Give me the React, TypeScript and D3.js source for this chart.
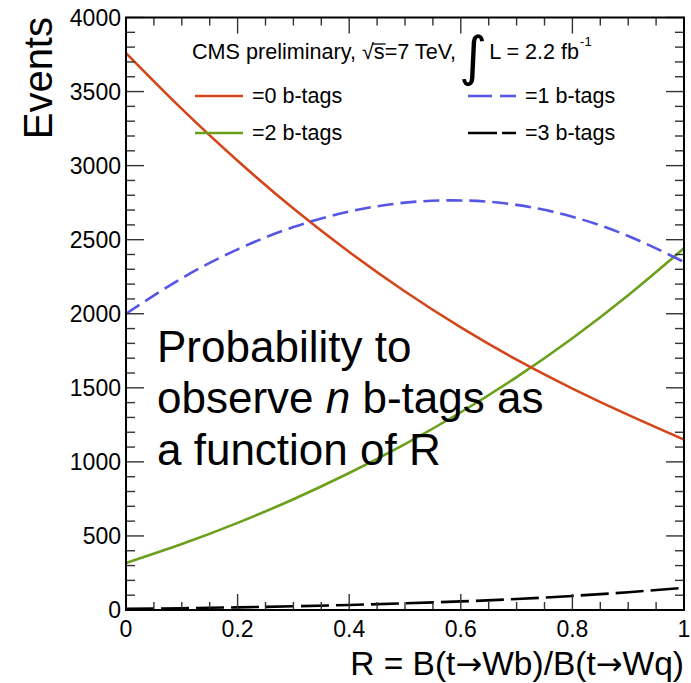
import React, { useEffect, useRef } from 'react';
import * as d3 from 'd3';

// ---- data ----
const R_VALUES = [0, 0.1, 0.2, 0.3, 0.4, 0.5, 0.6, 0.7, 0.8, 0.9, 1.0];
const EVENTS_0B = [3760, 3383, 3033, 2710, 2417, 2150, 1908, 1690, 1495, 1317, 1150];
const EVENTS_1B = [2000, 2240, 2435, 2585, 2690, 2750, 2765, 2735, 2655, 2525, 2350];
const EVENTS_2B = [317, 445, 588, 748, 925, 1120, 1335, 1572, 1835, 2125, 2442];
const EVENTS_3B = [8, 12, 18, 25, 34, 45, 58, 74, 95, 120, 150];

const SERIES_LABELS = ['=0 b-tags', '=1 b-tags', '=2 b-tags', '=3 b-tags'];
const SERIES_COLORS = ['#d4461a', '#5656e6', '#6aa01a', '#000000'];
const SERIES_DASH = ['none', '16,7', 'none', '28,7'];

const X_TICKS = [0, 0.2, 0.4, 0.6, 0.8, 1];
const X_TICK_LABELS = ['0', '0.2', '0.4', '0.6', '0.8', '1'];
const Y_TICKS = [0, 500, 1000, 1500, 2000, 2500, 3000, 3500, 4000];
const Y_TICK_LABELS = ['0', '500', '1000', '1500', '2000', '2500', '3000', '3500', '4000'];

const X_TITLE_PARTS = ['R = B(t', '\u2192', 'Wb)/B(t', '\u2192', 'Wq)'];
const Y_TITLE = 'Events';
const ANNOTATION = ['Probability to', 'observe |n| b-tags as', 'a function of R'];

const FONT = "'Liberation Sans', Arial, Helvetica, sans-serif";

export default function App() {
  const ref = useRef<SVGSVGElement>(null);

  useEffect(() => {
    const svg = d3.select(ref.current);
    svg.selectAll('*').remove();

    const W = 691, H = 683;
    const left = 126, right = 684, top = 17.5, bottom = 610;
    const x = d3.scaleLinear().domain([0, 1]).range([left, right]);
    const y = d3.scaleLinear().domain([0, 4000]).range([bottom, top]);

    svg.append('rect').attr('width', W).attr('height', H).attr('fill', '#fff');

    // curves
    const series = [EVENTS_0B, EVENTS_1B, EVENTS_2B, EVENTS_3B];
    const line = d3.line<number>()
      .x((_, i) => x(R_VALUES[i]))
      .y((d) => y(d))
      .curve(d3.curveNatural);
    const g = svg.append('g');
    [3, 2, 0, 1].forEach((k) => {
      g.append('path')
        .attr('d', line(series[k]) as string)
        .attr('fill', 'none')
        .attr('stroke', SERIES_COLORS[k])
        .attr('stroke-width', 2.6)
        .attr('stroke-dasharray', SERIES_DASH[k]);
    });

    // ticks on all four sides
    const tk = svg.append('g').attr('stroke', '#333').attr('stroke-width', 1.4);
    const xMinor = d3.range(0, 1.0001, 0.05);
    xMinor.forEach((v) => {
      const isMajor = Math.abs(v * 5 - Math.round(v * 5)) < 1e-6;
      const len = isMajor ? 16 : 8;
      tk.append('line').attr('x1', x(v)).attr('x2', x(v)).attr('y1', bottom).attr('y2', bottom - len);
      tk.append('line').attr('x1', x(v)).attr('x2', x(v)).attr('y1', top).attr('y2', top + len);
    });
    const yMinor = d3.range(0, 4001, 100);
    yMinor.forEach((v) => {
      const isMajor = v % 500 === 0;
      const len = isMajor ? 18 : 9;
      tk.append('line').attr('y1', y(v)).attr('y2', y(v)).attr('x1', left).attr('x2', left + len);
      tk.append('line').attr('y1', y(v)).attr('y2', y(v)).attr('x1', right).attr('x2', right - len);
    });

    // frame
    svg.append('rect')
      .attr('x', left).attr('y', top)
      .attr('width', right - left).attr('height', bottom - top)
      .attr('fill', 'none').attr('stroke', '#000').attr('stroke-width', 2);

    // tick labels
    const yl = svg.append('g').attr('font-family', FONT).attr('font-size', 23).attr('fill', '#000');
    Y_TICKS.forEach((v, i) => {
      yl.append('text').attr('x', 121).attr('y', y(v) + 8).attr('text-anchor', 'end').text(Y_TICK_LABELS[i]);
    });
    X_TICKS.forEach((v, i) => {
      yl.append('text').attr('x', x(v)).attr('y', 637).attr('text-anchor', 'middle').text(X_TICK_LABELS[i]);
    });

    // axis titles
    const xt = svg.append('text')
      .attr('font-family', FONT).attr('font-size', 33.5)
      .attr('x', right).attr('y', 675).attr('text-anchor', 'end');
    X_TITLE_PARTS.forEach((p) => {
      const ts = xt.append('tspan').text(p);
      if (p === '\u2192') ts.attr('font-family', "'DejaVu Sans', sans-serif").attr('font-size', 32);
    });
    svg.append('text')
      .attr('font-family', FONT).attr('font-size', 40)
      .attr('transform', `translate(52,17) rotate(-90)`)
      .attr('text-anchor', 'end').text(Y_TITLE);

    // header
    const hdr = svg.append('g').attr('font-family', FONT).attr('font-size', 21.6);
    const x0 = 192;
    const t1 = hdr.append('text').attr('x', x0).attr('y', 59).text('CMS preliminary, \u221A');
    const w1 = (t1.node() as SVGTextElement).getComputedTextLength();
    const t2 = hdr.append('text').attr('x', x0 + w1).attr('y', 59).text('s');
    const w2 = (t2.node() as SVGTextElement).getComputedTextLength();
    hdr.append('line').attr('x1', x0 + w1 - 1).attr('x2', x0 + w1 + w2 + 1)
      .attr('y1', 44).attr('y2', 44).attr('stroke', '#000').attr('stroke-width', 1.3);
    const t3 = hdr.append('text').attr('x', x0 + w1 + w2).attr('y', 59).text('=7 TeV,');
    const w3 = (t3.node() as SVGTextElement).getComputedTextLength();
    const ix = x0 + w1 + w2 + w3 + 3;
    const ti = hdr.append('text').attr('x', ix).attr('y', 75).attr('font-size', 54)
      .attr('font-family', "'DejaVu Sans', sans-serif").text('\u222B');
    const wi = (ti.node() as SVGTextElement).getComputedTextLength();
    const t4 = hdr.append('text').attr('x', ix + wi + 2).attr('y', 59).text('L = 2.2 fb');
    const w4 = (t4.node() as SVGTextElement).getComputedTextLength();
    hdr.append('text').attr('x', ix + wi + 2 + w4 + 1).attr('y', 46).attr('font-size', 13).text('-1');

    // legend
    const lg = svg.append('g').attr('font-family', FONT).attr('font-size', 21.5);
    const pos = [
      { lx: 195, ty: 103 },
      { lx: 468, ty: 103 },
      { lx: 195, ty: 140 },
      { lx: 468, ty: 140 },
    ];
    SERIES_LABELS.forEach((lab, k) => {
      const p = pos[k];
      lg.append('line')
        .attr('x1', p.lx).attr('x2', p.lx + 48)
        .attr('y1', p.ty - 7).attr('y2', p.ty - 7)
        .attr('stroke', SERIES_COLORS[k]).attr('stroke-width', 2.6)
        .attr('stroke-dasharray', k === 1 ? '24,8' : k === 3 ? '29,5' : 'none');
      lg.append('text').attr('x', p.lx + 57).attr('y', p.ty).text(lab);
    });

    // annotation
    const an = svg.append('g').attr('font-family', FONT).attr('font-size', 44).attr('fill', '#000');
    const bases = [362, 413, 465];
    ANNOTATION.forEach((ln, i) => {
      const t = an.append('text').attr('x', 157).attr('y', bases[i]);
      const parts = ln.split('|');
      parts.forEach((pt, j) => {
        const ts = t.append('tspan').text(pt);
        if (j % 2 === 1) ts.attr('font-style', 'italic');
      });
    });
  }, []);

  return (
    <svg
      ref={ref}
      width={691}
      height={683}
      style={{ position: 'absolute', left: 0, top: 0, display: 'block' }}
    />
  );
}
